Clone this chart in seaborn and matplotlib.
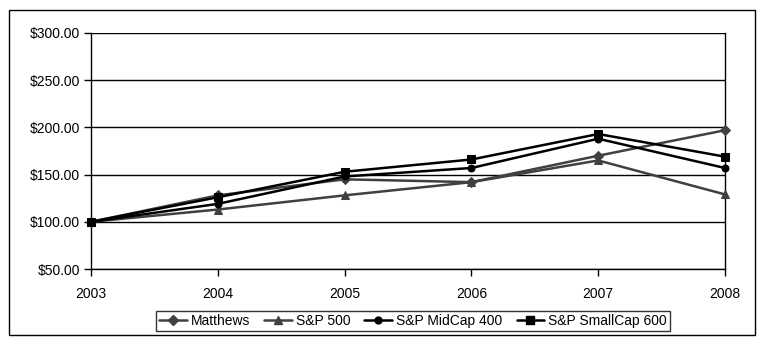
import matplotlib
matplotlib.use("Agg")
import matplotlib.pyplot as plt
import matplotlib.patches as mpatches
from matplotlib.lines import Line2D
import seaborn as sns
import pandas as pd

years = [2003, 2004, 2005, 2006, 2007, 2008]
matthews = [100, 128, 145, 142, 170, 197]
sp500 = [100, 113, 128, 142, 165, 129]
midcap = [100, 119, 148, 157, 188, 157]
smallcap = [100, 126, 153, 166, 193, 169]
series_names = ["Matthews", "S&P 500", "S&P MidCap 400", "S&P SmallCap 600"]
y_ticks = [50, 100, 150, 200, 250, 300]

sns.set_style("white")
plt.rcParams["font.family"] = ["Liberation Sans", "DejaVu Sans"]
plt.rcParams["text.color"] = "black"
plt.rcParams["xtick.color"] = "black"
plt.rcParams["ytick.color"] = "black"
plt.rcParams["axes.labelcolor"] = "black"

df = pd.DataFrame({
    "Year": years * 4,
    "Value": matthews + sp500 + midcap + smallcap,
    "Series": sum([[n] * len(years) for n in series_names], []),
})

palette = {"Matthews": "#404040", "S&P 500": "#404040",
           "S&P MidCap 400": "#000000", "S&P SmallCap 600": "#000000"}
markers = {"Matthews": "D", "S&P 500": "^", "S&P MidCap 400": "o", "S&P SmallCap 600": "s"}
msizes = {"Matthews": 5, "S&P 500": 6, "S&P MidCap 400": 5, "S&P SmallCap 600": 6}

fig = plt.figure(figsize=(7.65, 3.44), dpi=100)
ax = fig.add_axes([91 / 765, 1 - 269 / 344, (725 - 91) / 765, (269 - 33) / 344])

for name in series_names:
    sub = df[df["Series"] == name]
    sns.lineplot(data=sub, x="Year", y="Value", ax=ax, color=palette[name],
                 marker=markers[name], markersize=msizes[name],
                 markeredgecolor=palette[name], linewidth=1.8, label=name,
                 legend=False, clip_on=False, zorder=3)

ax.set_xlim(2003, 2008)
ax.set_ylim(50, 300)
ax.set_xticks(years)
ax.set_xticklabels([str(y) for y in years], fontsize=10, color="black")
ax.set_yticks(y_ticks)
ax.set_yticklabels([f"${v:.2f}" for v in y_ticks], fontsize=10, color="black")
ax.set_xlabel("")
ax.set_ylabel("")
ax.grid(axis="y", color="black", linewidth=1)
ax.set_axisbelow(True)
for s in ["left", "bottom", "right"]:
    ax.spines[s].set_color("black")
    ax.spines[s].set_linewidth(1)
ax.spines["top"].set_visible(False)
ax.tick_params(axis="both", direction="out", length=5, width=1, color="black",
               left=True, bottom=True, pad=3)
ax.tick_params(axis="x", pad=8)

handles = []
for name in series_names:
    handles.append(Line2D([0], [0], color=palette[name], marker=markers[name],
                          markersize=msizes[name], linewidth=1.8))
leg = fig.legend(handles, series_names, loc="center", ncol=4,
                 bbox_to_anchor=(413 / 765, 1 - 321 / 344), fontsize=10,
                 frameon=True, fancybox=False, handlelength=2.0,
                 handletextpad=0.3, columnspacing=1.0, borderpad=0.2)
leg.get_frame().set_edgecolor("black")
leg.get_frame().set_linewidth(1)
for t in leg.get_texts():
    t.set_color("black")

border = mpatches.Rectangle((9 / 765, 1 - 335 / 344), (755 - 9) / 765, (335 - 10) / 344,
                            transform=fig.transFigure, fill=False,
                            edgecolor="black", linewidth=1)
fig.patches.append(border)

fig.savefig("out.png", dpi=100, facecolor="white")
